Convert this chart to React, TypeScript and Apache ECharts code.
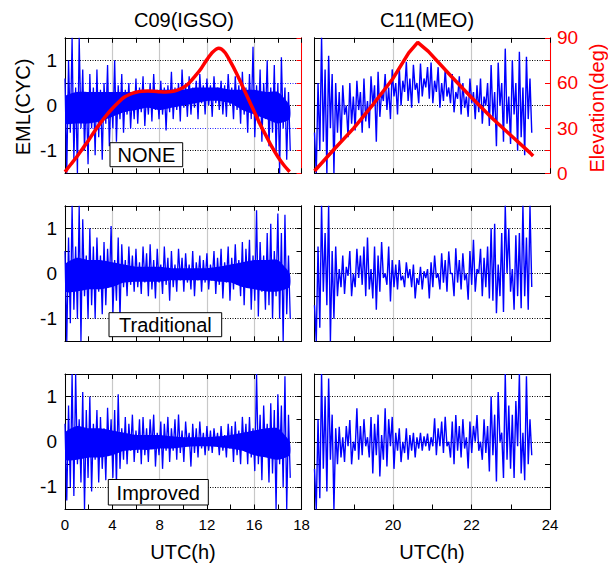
import React, { useEffect, useRef } from "react";
import * as echarts from "echarts";

const FONT = "'Liberation Sans', Arial, Helvetica, sans-serif";

// sampling of the time axis (plot units)
const LEFT_START = 0;
const LEFT_STEP = 0.3;
const RIGHT_START = 18;
const RIGHT_STEP = 0.09;
const CORE_STEP = 1;

// ---- C09 (IGSO), left column: upper / lower extremes per time bin ----
const noneC09Hi = [
  0.6, 1.0, 1.5, 0.4, 1.5, 0.8, 0.3, 0.7, 0.4, 0.8,
  0.35, 0.5, 0.9, 0.3, 1.0, 0.45, 0.7, 0.35, 0.5, 0.3,
  0.6, 0.4, 0.65, 0.3, 0.5, 0.7, 0.35, 0.55, 0.4, 0.45,
  0.75, 0.4, 0.5, 0.8, 0.45, 0.65, 0.4, 0.55, 0.7, 0.45,
  0.6, 0.45, 0.65, 0.4, 0.55, 0.45, 0.7, 0.4, 0.65, 0.45,
  0.75, 0.4, 0.7, 1.3, 0.45, 0.8, 0.5, 1.0, 0.4, 0.9,
  0.5, 1.07, 0.4, 0.3,
];
const noneC09Lo = [
  -1.5, -0.6, -1.2, -1.5, -0.5, -1.0, -1.3, -0.5, -1.1, -0.7,
  -1.2, -0.4, -0.9, -0.5, -0.8, -0.3, -0.6, -0.2, -0.5, -0.3,
  -0.4, -0.15, -0.45, -0.2, -0.35, -0.1, -0.3, -0.2, -0.55, -0.15,
  -0.3, -0.1, -0.35, -0.05, -0.25, -0.2, -0.05, -0.3, 0.05, -0.2,
  0.0, -0.25, 0.05, -0.1, -0.2, -0.25, 0.0, -0.3, -0.1, -0.4,
  -0.2, -0.6, -0.3, -0.7, -0.4, -0.8, -0.3, -0.9, -0.6, -1.1,
  -1.5, -0.5, -1.2, -1.0,
];
const tradC09Hi = [
  0.5, 0.8, 1.5, 0.6, 1.5, 1.2, 0.4, 1.0, 0.6, 0.8,
  0.4, 0.7, 0.55, 1.05, 0.3, 0.8, 0.65, 0.3, 0.6, 0.4,
  0.55, 0.25, 0.6, 0.45, 0.65, 0.3, 0.55, 0.2, 0.6, 0.35,
  0.5, 0.2, 0.55, 0.35, 0.45, 0.2, 0.5, 0.25, 0.4, 0.3,
  0.45, 0.2, 0.5, 0.35, 0.55, 0.25, 0.6, 0.35, 0.65, 0.3,
  0.7, 0.55, 0.75, 0.4, 1.4, 0.7, 0.4, 0.9, 1.1, 0.5,
  1.33, 0.9, 1.3, 0.4,
];
const tradC09Lo = [
  -1.5, -1.1, -0.8, -1.0, -1.5, -0.5, -1.0, -0.7, -1.0, -0.4,
  -0.9, -0.7, -0.3, -0.9, -0.6, -1.0, -0.3, -0.5, -0.25, -0.4,
  -0.3, -0.45, -0.2, -0.5, -0.35, -0.55, -0.2, -0.45, -0.25, -0.6,
  -0.3, -0.4, -0.15, -0.4, -0.2, -0.35, -0.5, -0.15, -0.4, -0.2,
  -0.35, -0.15, -0.45, -0.25, -0.55, -0.2, -0.6, -0.35, -0.25, -0.5,
  -0.7, -0.3, -0.8, -0.6, -0.95, -0.4, -0.8, -0.7, -1.0, -0.5,
  -1.0, -1.5, -0.9, -1.0,
];
const impC09Hi = [
  0.4, 0.8, 1.5, 1.5, 0.5, 1.1, 0.7, 1.0, 0.4, 0.7,
  0.55, 0.3, 0.75, 0.5, 0.7, 1.05, 0.3, 0.55, 0.4, 0.6,
  0.25, 0.5, 0.55, 0.3, 0.5, 0.6, 0.2, 0.45, 0.4, 0.55,
  0.3, 0.5, 0.6, 0.25, 0.45, 0.2, 0.4, 0.3, 0.45, 0.2,
  0.35, 0.25, 0.3, 0.2, 0.35, 0.15, 0.4, 0.35, 0.45, 0.25,
  0.55, 0.4, 0.55, 0.3, 1.5, 0.6, 0.8, 0.4, 0.85, 0.7,
  1.05, 0.8, 1.45, 0.6,
];
const impC09Lo = [
  -1.3, -1.0, -1.2, -0.5, -0.9, -1.5, -0.8, -1.1, -0.4, -0.9,
  -0.6, -0.85, -0.3, -0.8, -0.95, -0.6, -0.4, -0.5, -0.2, -0.45,
  -0.25, -0.5, -0.3, -0.45, -0.15, -0.55, -0.3, -0.6, -0.2, -0.45,
  -0.2, -0.4, -0.25, -0.45, -0.1, -0.55, -0.25, -0.35, -0.15, -0.3,
  -0.2, -0.25, -0.1, -0.3, -0.2, -0.35, -0.15, -0.45, -0.3, -0.5,
  -0.2, -0.5, -0.35, -0.65, -0.5, -0.85, -0.3, -0.9, -0.7, -1.5,
  -0.5, -1.0, -1.5, -0.8,
];

// dense core of the C09 traces (one value per hour, plot units 0..19)
const noneC09CoreHi = [0.2, 0.3, 0.3, 0.3, 0.3, 0.3, 0.3, 0.3, 0.35, 0.35, 0.35, 0.4, 0.4, 0.4, 0.35, 0.35, 0.35, 0.3, 0.3, 0.0];
const noneC09CoreLo = [-0.4, -0.4, -0.4, -0.35, -0.25, -0.15, -0.1, -0.05, -0.1, -0.05, 0.0, 0.05, 0.1, 0.1, 0.05, -0.1, -0.2, -0.3, -0.4, -0.3];
const tradC09CoreHi = [0.2, 0.35, 0.3, 0.3, 0.25, 0.2, 0.15, 0.15, 0.15, 0.12, 0.12, 0.12, 0.12, 0.15, 0.2, 0.25, 0.3, 0.3, 0.3, 0.0];
const tradC09CoreLo = [-0.4, -0.4, -0.35, -0.35, -0.3, -0.2, -0.18, -0.18, -0.18, -0.15, -0.15, -0.15, -0.15, -0.18, -0.2, -0.3, -0.35, -0.4, -0.4, -0.3];
const impC09CoreHi = [0.2, 0.35, 0.3, 0.3, 0.25, 0.2, 0.15, 0.15, 0.15, 0.12, 0.1, 0.1, 0.1, 0.12, 0.15, 0.2, 0.25, 0.3, 0.3, 0.0];
const impC09CoreLo = [-0.4, -0.4, -0.35, -0.35, -0.3, -0.2, -0.18, -0.18, -0.15, -0.15, -0.12, -0.1, -0.1, -0.12, -0.15, -0.2, -0.3, -0.35, -0.4, -0.3];

// ---- C11 (MEO), right column ----
const noneC11Hi = [
  -0.6, 0.5, 1.5, 0.8, 1.1, 0.7, 0.5, 0.3, 0.45, 0.0,
  0.5, 0.2, 0.55, 0.3, 0.6, 0.1, 0.65, 0.45, 0.75, 0.3,
  0.7, 0.4, 0.8, 0.5, 0.85, 0.55, 0.97, 0.6, 0.9, 0.5,
  0.93, 0.6, 0.85, 0.95, 0.55, 0.85, 0.5, 0.8, 0.4, 0.7,
  0.3, 0.65, 0.5, 0.2, 0.6, 0.3, 0.45, 0.6, 0.2, 0.5,
  0.9, 0.3, 0.95, 0.5, 1.26, 0.2, 1.0, 0.5, 1.19, 0.4,
  1.08, 0.6,
];
const noneC11Lo = [
  -1.5, -1.0, -0.8, -1.5, -0.5, -1.5, -0.6, -0.8, -0.2, -0.7,
  -0.4, -0.55, -0.1, -0.6, -0.35, -0.5, 0.0, -0.8, -0.25, 0.1,
  -0.1, -0.3, 0.2, -0.2, 0.0, 0.3, 0.1, -0.05, 0.35, 0.05,
  0.2, 0.4, 0.15, 0.05, 0.3, -0.05, 0.1, 0.2, 0.05, -0.15,
  0.15, -0.2, -0.05, -0.25, 0.05, -0.3, -0.15, -0.4, 0.0, -0.45,
  -0.3, -0.9, 0.0, -0.8, -0.4, -0.85, -0.2, -1.0, -0.7, -1.1,
  -0.3, -0.6,
];
const tradC11Hi = [
  -0.7, 0.6, 1.5, 0.9, 1.5, 0.5, 0.6, 0.1, 0.4, 0.15,
  0.5, 0.0, 0.55, 0.4, 0.6, 0.8, 0.1, 0.6, 0.4, 0.7,
  0.0, 0.6, 0.3, 0.2, 0.3, -0.05, 0.25, 0.1, 0.2, -0.1,
  0.15, 0.05, 0.1, 0.25, 0.4, 0.0, 0.45, 0.3, 0.49, 0.0,
  0.56, 0.3, 0.45, 0.0, 0.5, 0.75, 0.1, 0.55, 0.35, 0.6,
  1.0, 1.1, 0.2, 0.9, 1.5, 1.0, 0.1, 0.85, 0.9, 1.5,
  0.8, 1.5,
];
const tradC11Lo = [
  -1.5, -1.2, -0.4, -0.7, -1.5, -1.0, -0.5, -0.3, -0.45, -0.05,
  -0.5, -0.3, -0.1, -0.25, -0.5, -0.35, -0.55, -0.8, -0.4, -0.1,
  -0.25, -0.62, -0.3, -0.35, -0.15, -0.3, -0.1, -0.3, -0.55, -0.25,
  -0.35, -0.1, -0.55, -0.3, -0.1, -0.35, -0.2, -0.4, 0.0, -0.5,
  -0.2, -0.35, -0.15, -0.58, -0.25, -0.4, 0.0, -0.5, -0.3, -0.55,
  -0.6, -0.88, -0.5, -0.85, 0.0, -0.4, -0.8, -0.5, -0.77, -0.5,
  -0.8, -0.3,
];
const impC11Hi = [
  -0.6, 0.5, 1.5, 1.0, 1.4, 0.6, 0.3, 0.33, 0.1, 0.35,
  0.48, 0.0, 0.74, 0.35, 0.5, 0.1, 0.55, 0.4, 0.6, 0.15,
  0.74, 0.5, 0.55, 0.2, 0.3, 0.0, 0.3, 0.15, 0.2, 0.1,
  0.2, 0.12, 0.18, 0.1, 0.52, 0.3, 0.45, 0.55, 0.0, 0.45,
  0.59, 0.35, 0.5, 0.1, 0.45, 0.35, 0.59, 0.0, 0.5, 0.35,
  1.0, 0.6, 1.1, 0.2, 1.5, 0.8, 0.6, 0.9, 1.5, 0.2,
  1.45, 0.5,
];
const impC11Lo = [
  -1.5, -1.25, -0.6, -1.1, -0.4, -1.5, -0.5, -0.35, -0.45, -0.1,
  -0.5, -0.2, -0.4, -0.3, -0.1, -0.35, -0.7, -0.3, -0.77, -0.4,
  -0.55, -0.1, -0.6, -0.2, -0.45, -0.25, -0.4, -0.2, -0.35, -0.15,
  -0.2, -0.1, -0.2, -0.1, -0.3, -0.1, -0.25, -0.1, -0.35, -0.5,
  -0.2, -0.35, -0.15, -0.59, -0.25, 0.0, -0.2, -0.4, -0.25, -0.66,
  -0.3, -0.88, 0.0, -0.8, -0.4, -0.6, -0.8, -0.1, -0.7, -0.85,
  -0.5, -0.3,
];

// ---- elevation (deg) ----
const elevC09Time = [
  0, 0.5, 1, 1.5, 2, 2.5, 3, 3.5, 4, 4.5, 5, 5.5, 6, 6.5, 7, 7.5, 8, 8.5, 9, 9.5,
  10, 10.5, 11, 11.5, 12, 12.5, 13, 13.5, 14, 14.5, 15, 15.5, 16, 16.5, 17, 17.5, 18, 18.5, 19,
];
const elevC09 = [
  1, 6, 11, 16.5, 22, 28, 33.5, 38.5, 43, 47, 50.5, 52.5, 53.8, 54.5, 54.6, 54.5, 54.2, 54, 54.3, 55.3,
  57, 60, 64.5, 69.5, 75.5, 80.5, 83, 80.5, 74, 66.5, 58, 49.5, 41, 32.5, 25, 17.5, 11, 5.5, 1,
];
const elevC11Time = [18.0, 18.5, 19.0, 19.5, 20.0, 20.4, 20.63, 20.9, 21.5, 22.0, 22.5, 23.0, 23.5, 23.57];
const elevC11 = [1.5, 16, 30, 46, 63, 80, 87, 81, 64, 50.3, 37.2, 25.3, 13.4, 11.5];

// ---- tick labels ----
const leftXTickValues = [0, 4, 8, 12, 16, 20];
const leftXTickLabels = ["0", "4", "8", "12", "16", "18"];
const rightXTickValues = [20, 22, 24];
const rightXTickLabels = ["20", "22", "24"];
const yTickValues = [-1, 0, 1];
const yTickLabels = ["-1", "0", "1"];
const elevTickValues = [0, 30, 60, 90];
const elevTickLabels = ["0", "30", "60", "90"];

const panels = [
  { hi: noneC09Hi, lo: noneC09Lo, coreHi: noneC09CoreHi, coreLo: noneC09CoreLo },
  { hi: noneC11Hi, lo: noneC11Lo, coreHi: null, coreLo: null },
  { hi: tradC09Hi, lo: tradC09Lo, coreHi: tradC09CoreHi, coreLo: tradC09CoreLo },
  { hi: tradC11Hi, lo: tradC11Lo, coreHi: null, coreLo: null },
  { hi: impC09Hi, lo: impC09Lo, coreHi: impC09CoreHi, coreLo: impC09CoreLo },
  { hi: impC11Hi, lo: impC11Lo, coreHi: null, coreLo: null },
];

function zigzag(start: number, step: number, hi: number[], lo: number[]) {
  const pts: number[][] = [];
  for (let i = 0; i < hi.length; i++) {
    pts.push([start + i * step, hi[i]]);
    pts.push([start + (i + 0.5) * step, lo[i]]);
  }
  return pts;
}

function lookup(values: number[], labels: string[]) {
  return (v: number) => {
    for (let i = 0; i < values.length; i++) {
      if (Math.abs(values[i] - v) < 1e-6) return labels[i];
    }
    return "";
  };
}

function buildOption() {
  const colLeft = [65, 314.5];
  const colWidth = [236.5, 235.5];
  const rowTop = [37.8, 205.8, 374];
  const rowHeight = 135.5;

  const grid: any[] = [];
  const xAxis: any[] = [];
  const yAxis: any[] = [];
  const series: any[] = [];

  const black = { color: "#000", width: 1 };
  const red = { color: "#ff0000", width: 1 };

  panels.forEach((p, g) => {
    const r = Math.floor(g / 2);
    const c = g % 2;
    grid.push({ left: colLeft[c], top: rowTop[r], width: colWidth[c], height: rowHeight });
    const xr = c === 0 ? { min: 0, max: 20, interval: 2 } : { min: 18, max: 24, interval: 1 };
    const xFmt = c === 0 ? lookup(leftXTickValues, leftXTickLabels) : lookup(rightXTickValues, rightXTickLabels);
    xAxis.push({
      type: "value", gridIndex: g, position: "bottom", ...xr,
      axisLine: { show: true, onZero: false, lineStyle: black },
      axisTick: { show: true, inside: true, length: 5, lineStyle: black },
      axisLabel: { show: r === 2, formatter: xFmt, fontSize: 15, color: "#000", margin: 7, fontFamily: FONT },
      splitLine: { show: true, lineStyle: { color: ["#c8c8c8", "rgba(0,0,0,0)"], width: 1.2 } },
    });
    xAxis.push({
      type: "value", gridIndex: g, position: "top", ...xr,
      axisLine: { show: true, onZero: false, lineStyle: black },
      axisTick: { show: true, inside: true, length: 5, lineStyle: black },
      axisLabel: { show: false },
      splitLine: { show: false },
    });
    yAxis.push({
      type: "value", gridIndex: g, position: "left", min: -1.5, max: 1.5, interval: 0.5,
      axisLine: { show: true, onZero: false, lineStyle: black },
      axisTick: { show: true, inside: true, length: 5, lineStyle: black },
      axisLabel: { show: c === 0, formatter: lookup(yTickValues, yTickLabels), fontSize: 19, color: "#000", margin: 8, fontFamily: FONT },
      splitLine: {
        show: true,
        lineStyle: { color: g === 0 ? ["#2020ff", "#000"] : ["rgba(0,0,0,0)", "#000"], type: [1, 1.5], width: 1 },
      },
    });
    if (r === 0) {
      yAxis.push({
        type: "value", gridIndex: g, position: "right", min: 0, max: 90, interval: 15,
        axisLine: { show: true, onZero: false, lineStyle: red },
        axisTick: { show: true, inside: true, length: 5, lineStyle: red },
        axisLabel: { show: c === 1, formatter: lookup(elevTickValues, elevTickLabels), fontSize: 19, color: "#ff0000", margin: 7, fontFamily: FONT },
        splitLine: { show: false },
      });
    } else {
      yAxis.push({
        type: "value", gridIndex: g, position: "right", min: -1.5, max: 1.5, interval: 0.5,
        axisLine: { show: true, onZero: false, lineStyle: black },
        axisTick: { show: true, inside: true, length: 5, lineStyle: black },
        axisLabel: { show: false },
        splitLine: { show: false },
      });
    }
    const start = c === 0 ? LEFT_START : RIGHT_START;
    const step = c === 0 ? LEFT_STEP : RIGHT_STEP;
    if (p.coreHi && p.coreLo) {
      const cHi = p.coreHi;
      const cLo = p.coreLo;
      series.push({
        type: "custom", xAxisIndex: 2 * g, yAxisIndex: 2 * g,
        data: [[start, 0]], silent: true, z: 2, clip: true,
        renderItem: (_params: any, api: any) => {
          const pts: number[][] = [];
          for (let i = 0; i < cHi.length; i++) pts.push(api.coord([start + i * CORE_STEP, cHi[i]]));
          for (let i = cLo.length - 1; i >= 0; i--) pts.push(api.coord([start + i * CORE_STEP, cLo[i]]));
          return { type: "polygon", shape: { points: pts, smooth: 0.2 }, style: { fill: "#0000ff" } };
        },
      });
    }
    series.push({
      type: "line", xAxisIndex: 2 * g, yAxisIndex: 2 * g,
      data: zigzag(start, step, p.hi, p.lo),
      symbol: "none", showSymbol: false, silent: true, z: 2,
      lineStyle: { color: "#0000ff", width: c === 0 ? 1.3 : 1.4 },
    });
  });

  series.push({
    type: "line", xAxisIndex: 0, yAxisIndex: 1,
    data: elevC09Time.map((t, i) => [t, elevC09[i]]),
    symbol: "none", showSymbol: false, smooth: 0.3, silent: true, z: 3,
    lineStyle: { color: "#ff0000", width: 3.5 },
  });
  series.push({
    type: "line", xAxisIndex: 2, yAxisIndex: 3,
    data: elevC11Time.map((t, i) => [t, elevC11[i]]),
    symbol: "none", showSymbol: false, silent: true, z: 3,
    lineStyle: { color: "#ff0000", width: 3.5 },
  });

  const txt = (text: string, x: number, y: number, size = 20, color = "#000", rotation = 0) => ({
    type: "text", x, y, rotation, z: 110,
    style: {
      text, fill: color, font: `${size}px ${FONT}`,
      align: "center", verticalAlign: "middle",
      textAlign: "center", textVerticalAlign: "middle",
    },
  });
  const box = (x: number, y: number, w: number, h: number) => ({
    type: "rect", z: 105,
    shape: { x, y, width: w, height: h },
    style: { fill: "#fff", stroke: "#000", lineWidth: 1 },
  });

  const graphic = [
    txt("C09(IGSO)", 184, 20),
    txt("C11(MEO)", 427, 20),
    txt("EML(CYC)", 23, 107, 20, "#000", Math.PI / 2),
    txt("Elevation(deg)", 597, 108, 20, "#ff0000", Math.PI / 2),
    txt("UTC(h)", 183, 552),
    txt("UTC(h)", 432, 552),
    box(110, 142.7, 72.7, 24),
    txt("NONE", 146.4, 155),
    box(109, 312.7, 112.7, 24),
    txt("Traditional", 165.4, 325),
    box(108.3, 479.5, 100, 25.5),
    txt("Improved", 158.3, 492.5),
  ];

  return {
    animation: false,
    backgroundColor: "#fff",
    textStyle: { fontFamily: FONT },
    grid, xAxis, yAxis, series, graphic,
  };
}

export default function App() {
  const ref = useRef<HTMLDivElement>(null);
  useEffect(() => {
    if (!ref.current) return;
    const chart = echarts.init(ref.current, undefined, { renderer: "svg" });
    chart.setOption(buildOption() as any);
    return () => chart.dispose();
  }, []);
  return (
    <div
      ref={ref}
      style={{ position: "fixed", left: 0, top: 0, width: 608, height: 569, background: "#fff" }}
    />
  );
}
